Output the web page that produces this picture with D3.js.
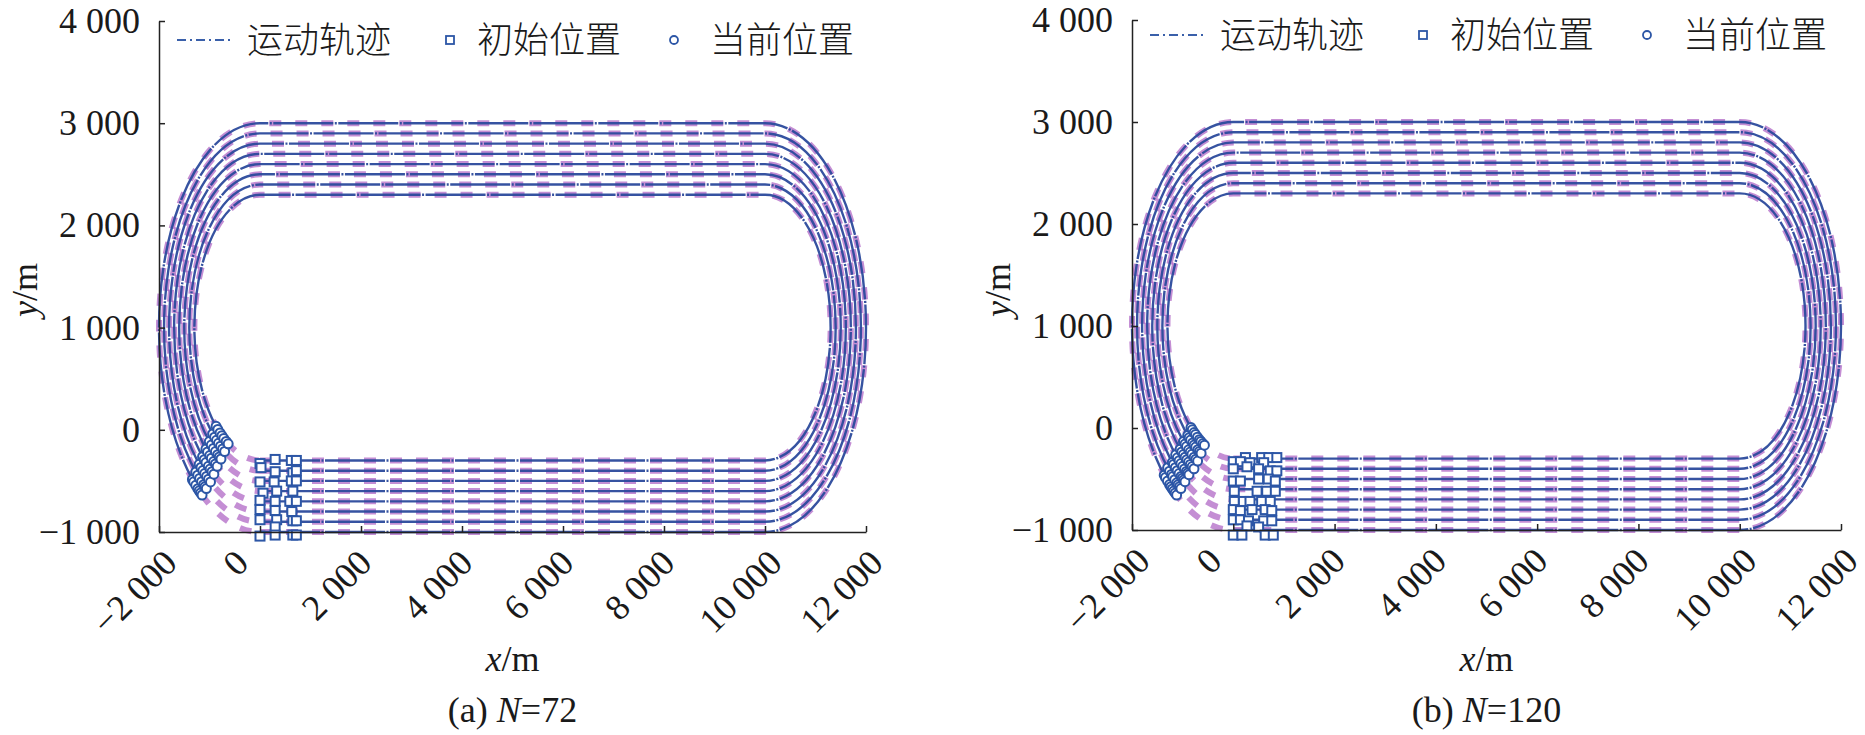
<!DOCTYPE html>
<html>
<head>
<meta charset="utf-8">
<script src="https://cdn.jsdelivr.net/npm/d3@7"></script>
<style>
  body { margin: 0; background: #fff; }
  svg { display: block; }
</style>
</head>
<body>
<svg width="1865" height="735"></svg>
<script>
// Axis ticks
let xTicks = [-2000, 0, 2000, 4000, 6000, 8000, 10000, 12000];
let yTicks = [-1000, 0, 1000, 2000, 3000, 4000];

// Lane radii (m); arcs centred on (0, 1000) and (10000, 1000)
let laneRadius = [2000, 1900, 1800, 1700, 1600, 1500, 1400, 1300];
let arcCenterY = 1000;
let straightX = [0, 10000];

// Initial positions (m)
let initA = [
  [0, -330], [300, -290], [620, -300], [720, -300],
  [20, -370], [300, -410], [650, -420], [720, -400],
  [0, -510], [280, -510], [620, -500], [720, -500],
  [60, -620], [330, -600], [650, -600],
  [0, -690], [300, -700], [590, -700], [720, -700],
  [0, -780], [300, -790], [630, -800],
  [0, -880], [330, -880], [650, -890], [720, -890],
  [300, -950], [0, -1040], [300, -1030], [650, -1030], [720, -1030]
];
let initB = [
  [240, -290], [560, -290], [700, -290], [860, -290], [0, -330], [140, -330], [330, -340], [600, -340],
  [0, -400], [270, -380], [500, -400], [730, -420], [860, -420],
  [0, -520], [140, -520], [500, -500], [690, -500], [830, -520],
  [20, -620], [470, -620], [660, -620], [830, -620],
  [20, -720], [200, -720], [330, -720], [560, -720], [730, -720],
  [0, -800], [140, -810], [370, -800], [630, -800], [760, -810],
  [0, -900], [140, -900], [300, -910], [600, -910], [760, -910],
  [270, -960], [500, -970],
  [0, -1050], [170, -1050], [630, -1050], [790, -1050]
];

// Current positions: angle (deg) down the left arc, per lane
let curA = [
  [48, 49, 50.5, 52, 53, 54, 55],
  [48, 49.5, 51, 52.5, 54, 55, 56],
  [48, 49.5, 51, 52.5, 54, 55.5, 57],
  [48, 49.5, 51, 53, 54.5, 56, 57.5],
  [48, 49.5, 51.5, 53, 55, 56.5, 58],
  [48, 50, 52, 54, 56, 57.5, 59],
  [48, 50, 52, 54, 56, 58, 60],
  [48, 50, 52.5, 54.5, 56.5, 59, 61]
];
let curB = [
  [47, 48, 49.5, 51, 52, 53, 54, 55, 56],
  [47, 48.5, 50, 51, 52.5, 54, 55, 56, 57],
  [48, 49, 50.5, 52, 53.5, 55, 56, 57, 58],
  [48, 49.5, 51, 52.5, 54, 55.5, 57, 58, 59],
  [49, 50.5, 52, 53.5, 55, 56.5, 58, 59.5, 61],
  [49, 50.5, 52, 54, 55.5, 57, 59, 60.5, 62],
  [50, 51.5, 53, 55, 56.5, 58, 60, 61.5, 63],
  [50, 51.5, 53.5, 55, 57, 59, 60.5, 62.5, 64]
];

let legendLabels = ["运动轨迹", "初始位置", "当前位置"];

let panels = [
  { left: 159, right: 866, top: 21, bottom: 532, init: initA, cur: curA, tag: "(a) ", n: "72", legendY: 40 },
  { left: 1132, right: 1841, top: 20, bottom: 530, init: initB, cur: curB, tag: "(b) ", n: "120", legendY: 35 }
];

let serif = '"Liberation Serif", "Times New Roman", Times, serif';
let cjk = '"Noto Sans CJK SC", sans-serif';

let blue = "#2b4a9c",
    markBlue = "#2c56a6",
    magenta = "#a552bd";

let svg = d3.select("svg");

function fmt(d) {
  let s = d3.format(",")(Math.abs(d)).replace(",", " ");
  return (d < 0 ? "\u2212" : "") + s;
}

panels.forEach(function(p) {
  let x = d3.scaleLinear().domain([-2000, 12000]).range([p.left, p.right]);
  let y = d3.scaleLinear().domain([-1000, 4000]).range([p.bottom, p.top]);
  let g = svg.append("g");

  // point on the left arc at angle phi (deg) from its leftmost point
  function leftArcPoint(r, phi) {
    let a = phi * Math.PI / 180;
    return [x(-r * Math.cos(a)), y(arcCenterY - r * Math.sin(a))];
  }

  // Reference loop (dashed magenta), under the blue
  g.selectAll(".ref")
    .data(laneRadius)
    .enter().append("path")
    .attr("class", "ref")
    .attr("d", function(r) {
      let rx = x(r) - x(0), ry = y(0) - y(r);
      return "M" + x(straightX[0]) + "," + y(arcCenterY - r) +
        "L" + x(straightX[1]) + "," + y(arcCenterY - r) +
        "A" + rx + "," + ry + " 0 0 0 " + x(straightX[1]) + "," + y(arcCenterY + r) +
        "L" + x(straightX[0]) + "," + y(arcCenterY + r) +
        "A" + rx + "," + ry + " 0 0 0 " + x(straightX[0]) + "," + y(arcCenterY - r);
    })
    .attr("fill", "none")
    .attr("stroke", magenta)
    .attr("stroke-width", 6)
    .attr("stroke-opacity", 0.65)
    .attr("stroke-dasharray", "12,14");

  // Travelled trajectories (blue dash-dot, dense)
  g.selectAll(".traj")
    .data(laneRadius)
    .enter().append("path")
    .attr("class", "traj")
    .attr("d", function(r, i) {
      let rx = x(r) - x(0), ry = y(0) - y(r);
      let end = leftArcPoint(r, d3.max(p.cur[i]));
      return "M" + x(straightX[0]) + "," + y(arcCenterY - r) +
        "L" + x(straightX[1]) + "," + y(arcCenterY - r) +
        "A" + rx + "," + ry + " 0 0 0 " + x(straightX[1]) + "," + y(arcCenterY + r) +
        "L" + x(straightX[0]) + "," + y(arcCenterY + r) +
        "A" + rx + "," + ry + " 0 0 0 " + end[0] + "," + end[1];
    })
    .attr("fill", "none")
    .attr("stroke", blue)
    .attr("stroke-width", 2.4)
    .attr("stroke-opacity", 0.95)
    .attr("stroke-dasharray", "60,1.5,2,1.5");

  // Initial positions
  g.selectAll(".init")
    .data(p.init)
    .enter().append("rect")
    .attr("x", function(d) { return x(d[0]) - 4.5; })
    .attr("y", function(d) { return y(d[1]) - 4.5; })
    .attr("width", 9)
    .attr("height", 9)
    .attr("fill", "#fff")
    .attr("stroke", markBlue)
    .attr("stroke-width", 2);

  // Current positions
  let cur = [];
  p.cur.forEach(function(list, i) {
    list.forEach(function(phi) { cur.push(leftArcPoint(laneRadius[i], phi)); });
  });
  g.selectAll(".cur")
    .data(cur)
    .enter().append("circle")
    .attr("cx", function(d) { return d[0]; })
    .attr("cy", function(d) { return d[1]; })
    .attr("r", 4.5)
    .attr("fill", "#fff")
    .attr("stroke", markBlue)
    .attr("stroke-width", 2);

  // Axes
  let xAxis = g.append("g")
    .attr("transform", "translate(0," + p.bottom + ")")
    .call(d3.axisBottom(x).tickValues(xTicks).tickFormat(fmt).tickSize(-6).tickSizeOuter(0));
  g.append("g")
    .attr("transform", "translate(" + p.left + ",0)")
    .call(d3.axisLeft(y).tickValues(yTicks).tickFormat(fmt).tickSize(-6).tickSizeOuter(0).tickPadding(19));

  g.selectAll(".tick text")
    .style("font-family", serif)
    .style("font-size", "36px")
    .style("fill", "#1a1a1a");

  xAxis.selectAll("text")
    .attr("dy", 0)
    .attr("text-anchor", "end")
    .each(function() {
      let w = this.getComputedTextLength();
      let ax = -25 + 0.354 * (w + 24);
      d3.select(this)
        .attr("x", ax).attr("y", 33)
        .attr("transform", "rotate(-45," + ax + ",33)");
    });

  g.selectAll(".domain, .tick line").attr("stroke", "#222").attr("stroke-width", 1.5);

  // Axis titles
  let cx = (p.left + p.right) / 2;
  let xt = g.append("text")
    .attr("x", cx).attr("y", 671).attr("text-anchor", "middle");
  xt.append("tspan").attr("font-style", "italic").text("x");
  xt.append("tspan").text("/m");

  let yt = g.append("text")
    .attr("transform", "translate(" + (p.left - 122) + ",290) rotate(-90)")
    .attr("text-anchor", "middle");
  yt.append("tspan").attr("font-style", "italic").text("y");
  yt.append("tspan").text("/m");

  let cap = g.append("text")
    .attr("x", cx).attr("y", 722).attr("text-anchor", "middle");
  cap.append("tspan").text(p.tag);
  cap.append("tspan").attr("font-style", "italic").text("N");
  cap.append("tspan").text("=" + p.n);

  [xt, yt, cap].forEach(function(t) {
    t.style("font-family", serif).style("font-size", "36px").style("fill", "#1a1a1a");
  });

  // Legend
  let lg = g.append("g")
    .attr("transform", "translate(" + p.left + "," + p.legendY + ")");
  lg.append("line")
    .attr("x1", 18).attr("x2", 72).attr("y1", 0).attr("y2", 0)
    .attr("stroke", "#3a60aa").attr("stroke-width", 2.2)
    .attr("stroke-dasharray", "9,4,2,4");
  lg.append("rect")
    .attr("x", 287).attr("y", -4).attr("width", 8).attr("height", 8)
    .attr("fill", "#fff").attr("stroke", markBlue).attr("stroke-width", 1.8);
  lg.append("circle")
    .attr("cx", 515).attr("cy", 0).attr("r", 4)
    .attr("fill", "#fff").attr("stroke", markBlue).attr("stroke-width", 1.8);
  lg.selectAll("text")
    .data(legendLabels)
    .enter().append("text")
    .attr("x", function(d, i) { return [88, 318, 551][i]; })
    .attr("y", 0)
    .attr("dy", "0.36em")
    .style("font-family", cjk)
    .style("font-size", "36px")
    .style("font-weight", 300)
    .style("fill", "#1a1a1a")
    .text(function(d) { return d; });
});
</script>
</body>
</html>
